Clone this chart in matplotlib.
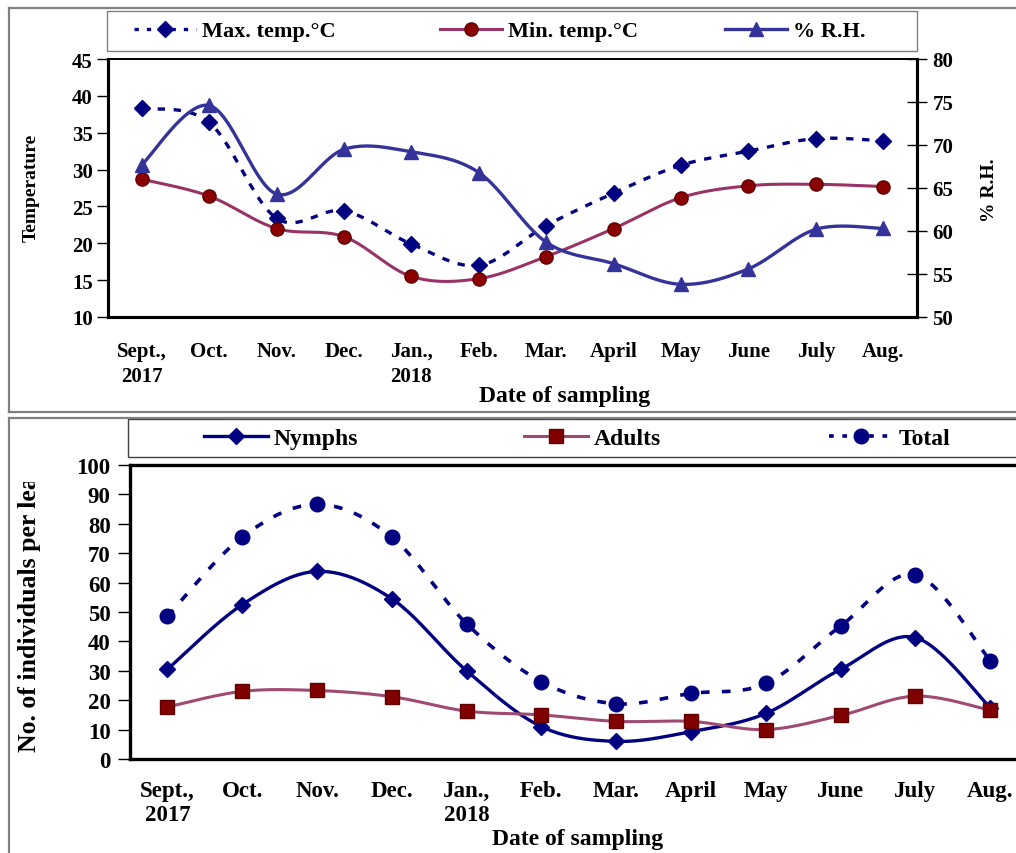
import numpy as np
import matplotlib
matplotlib.use("Agg")
import matplotlib.pyplot as plt
from matplotlib.lines import Line2D
from matplotlib.patches import Rectangle
from matplotlib.transforms import Bbox

plt.rcParams['font.family'] = ['Liberation Serif', 'DejaVu Serif']
plt.rcParams['font.weight'] = 'bold'

months = ["Sept.,\n2017", "Oct.", "Nov.", "Dec.", "Jan.,\n2018", "Feb.",
          "Mar.", "April", "May", "June", "July", "Aug."]
max_temp = [38.3, 36.4, 23.4, 24.4, 19.9, 17.0, 22.4, 26.8, 30.6, 32.5, 34.2, 33.9]
min_temp = [28.7, 26.4, 22.0, 20.9, 15.5, 15.2, 18.2, 22.0, 26.2, 27.8, 28.0, 27.7]
rh = [67.7, 74.6, 64.3, 69.5, 69.2, 66.8, 58.7, 56.2, 53.8, 55.6, 60.2, 60.3]

nymphs = [30.5, 52.5, 63.8, 54.5, 30.0, 11.0, 6.0, 9.3, 15.5, 30.5, 41.3, 17.5]
adults = [17.7, 23.0, 23.3, 21.2, 16.3, 15.0, 12.8, 12.8, 10.0, 14.8, 21.4, 16.6]
total = [48.5, 75.5, 86.6, 75.5, 46.0, 26.3, 18.8, 22.3, 25.7, 45.2, 62.7, 33.5]

W, H = 1016, 854
fig = plt.figure(figsize=(W / 100, H / 100), dpi=100)


def fx(px):
    return px / W


def fy(py):
    return 1 - py / H


def smooth(x, y, n=24):
    pts = np.column_stack([np.asarray(x, float), np.asarray(y, float)])
    P = np.vstack([pts[0], pts, pts[-1]])
    out = []
    t = np.linspace(0, 1, n)[:, None]
    for i in range(1, len(P) - 2):
        p0, p1, p2, p3 = P[i - 1], P[i], P[i + 1], P[i + 2]
        c1 = p1 + (p2 - p0) / 6
        c2 = p2 - (p3 - p1) / 6
        seg = ((1 - t) ** 3) * p1 + 3 * ((1 - t) ** 2) * t * c1 + 3 * (1 - t) * t ** 2 * c2 + t ** 3 * p2
        out.append(seg if i == 1 else seg[1:])
    s = np.vstack(out)
    return s[:, 0], s[:, 1]


def entry(handle, label, x_px, y_px, size, hl):
    lg = fig.legend([handle], [label], loc='center left',
                    bbox_to_anchor=(fx(x_px), fy(y_px)), frameon=False,
                    prop={'size': size, 'weight': 'bold'}, handlelength=hl,
                    borderpad=0, borderaxespad=0, handletextpad=0.25)
    return lg


x = np.arange(len(months))

navy = "#000080"
plum = "#993366"
maroon = "#8B0000"
rhblue = "#333399"
gray = "#808080"

# ---------------- top panel ----------------
ax1 = fig.add_axes([fx(108), fy(318), fx(917) - fx(108), fy(60) - fy(318)])
ax2 = ax1.twinx()

sx, sy = smooth(x, max_temp)
ax1.plot(sx, sy, color=navy, lw=2.4, dashes=(2.2, 2.6))
ax1.plot(x, max_temp, ls='none', marker='D', ms=8, color=navy)
l_max = Line2D([], [], color=navy, lw=2.4, dashes=(1.3, 2.4), marker='D', ms=8)

sx, sy = smooth(x, min_temp)
ax1.plot(sx, sy, color=plum, lw=2.2)
ax1.plot(x, min_temp, ls='none', marker='o', ms=9.5, color=maroon, mec="#600000")
l_min = Line2D([], [], color=plum, lw=2.2, marker='o', ms=9.5, mfc=maroon, mec="#600000")

sx, sy = smooth(x, rh)
ax2.plot(sx, sy, color=rhblue, lw=2.4)
ax2.plot(x, rh, ls='none', marker='^', ms=10, color=rhblue)
l_rh = Line2D([], [], color=rhblue, lw=2.4, marker='^', ms=10)

ax1.set_xlim(-0.5, 11.5)
ax1.set_ylim(10, 45)
ax1.set_yticks(range(10, 46, 5))
ax2.set_ylim(50, 80)
ax2.set_yticks(range(50, 81, 5))
ax1.set_xticks(x)
ax1.set_xticklabels(months, fontsize=15, linespacing=1.35, ha='center')
ax1.tick_params(axis='x', length=0, pad=17)
ax1.tick_params(axis='y', direction='out', length=8, width=1, labelsize=15, pad=3)
ax2.tick_params(axis='y', direction='inout', length=14, width=1, labelsize=15, pad=4)
for lab in ax1.get_xticklabels() + ax1.get_yticklabels() + ax2.get_yticklabels():
    lab.set_fontweight('bold')
for sp in ['left', 'bottom', 'right']:
    ax1.spines[sp].set_linewidth(2.2)
    ax2.spines[sp].set_linewidth(2.2)
ax1.spines['top'].set_linewidth(1.2)
ax2.spines['top'].set_linewidth(1.2)
fig.text(fx(31), fy(188), "Temperature", rotation=90, ha='center', va='center',
         fontsize=14, fontweight='bold')
fig.text(fx(990), fy(190), "% R.H.", rotation=90, ha='center', va='center',
         fontsize=14, fontweight='bold')
fig.text(fx(565), fy(397), "Date of sampling", ha='center', va='center', fontsize=17, fontweight='bold')

fig.add_artist(Rectangle((fx(107), fy(52)), fx(917) - fx(107), fy(12) - fy(52),
                         transform=fig.transFigure, fill=False, edgecolor=gray, lw=1.0))
entry(l_max, "Max. temp.\u00b0C", 134, 32, 16, 2.8)
entry(l_min, "Min. temp.\u00b0C", 440, 32, 16, 2.8)
entry(l_rh, "% R.H.", 725, 32, 16, 2.8)

# ---------------- bottom panel ----------------
ax3 = fig.add_axes([fx(130), fy(760), 12 * 74.8 / W, fy(466) - fy(760)])

sx, sy = smooth(x, nymphs)
ax3.plot(sx, sy, color=navy, lw=2.4)
ax3.plot(x, nymphs, ls='none', marker='D', ms=8, color=navy)
l_ny = Line2D([], [], color=navy, lw=2.4, marker='D', ms=8)

sx, sy = smooth(x, adults)
ax3.plot(sx, sy, color="#A04A72", lw=2.2)
ax3.plot(x, adults, ls='none', marker='s', ms=9.5, color="#800000", mec="#600000")
l_ad = Line2D([], [], color="#A04A72", lw=2.2, marker='s', ms=9.5, mfc="#800000", mec="#600000")

sx, sy = smooth(x, total)
ax3.plot(sx, sy, color=navy, lw=2.6, dashes=(2.4, 3.4))
ax3.plot(x, total, ls='none', marker='o', ms=10.5, color=navy)
l_to = Line2D([], [], color=navy, lw=2.6, dashes=(1.3, 2.4), marker='o', ms=10.5)

ax3.set_xlim(-0.5, 11.5)
ax3.set_ylim(0, 100)
ax3.set_yticks(range(0, 101, 10))
ax3.set_xticks(x)
ax3.set_xticklabels(months, fontsize=16.5, linespacing=1.2, ha='center')
ax3.tick_params(axis='x', length=0, pad=15)
ax3.tick_params(axis='y', direction='out', length=9, width=1, labelsize=16.5, pad=5)
for lab in ax3.get_xticklabels() + ax3.get_yticklabels():
    lab.set_fontweight('bold')
for sp in ax3.spines.values():
    sp.set_linewidth(2.4)
ylab = fig.text(fx(30), fy(752), "No. of individuals per leaf", rotation=90, ha='center', va='bottom',
                fontsize=18.5, fontweight='bold')
ylab.set_clip_box(Bbox.from_extents(0, 0, W, fy(483) * H))
ylab.set_clip_on(True)
fig.text(fx(578), fy(840), "Date of sampling", ha='center', va='center', fontsize=17, fontweight='bold')

fig.add_artist(Rectangle((fx(128), fy(458)), fx(1040) - fx(128), fy(420) - fy(458),
                         transform=fig.transFigure, fill=False, edgecolor="#404040", lw=1.0))
entry(l_ny, "Nymphs", 204, 439, 17, 2.7)
entry(l_ad, "Adults", 524, 439, 17, 2.7)
entry(l_to, "Total", 829, 439, 17, 2.7)

# ---------------- outer panel frames ----------------
for (x0, y0, x1, y1) in [(9, 9, 1016, 9), (9, 9, 9, 413), (9, 413, 1016, 413),
                         (9, 419, 1016, 419), (9, 419, 9, 854)]:
    fig.add_artist(Line2D([fx(x0), fx(x1)], [fy(y0), fy(y1)], color=gray, lw=1.6,
                          transform=fig.transFigure))

fig.savefig("out.png", dpi=100)
